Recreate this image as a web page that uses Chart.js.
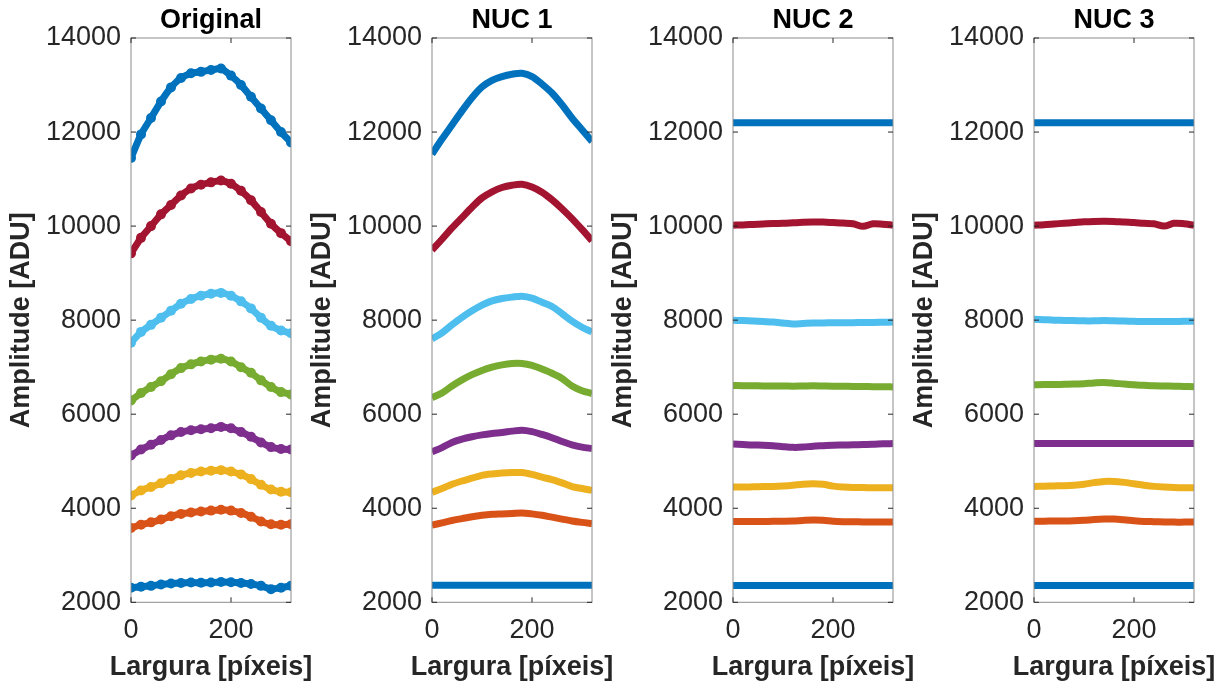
<!DOCTYPE html>
<html>
<head>
<meta charset="utf-8">
<script src="https://cdn.jsdelivr.net/npm/chart.js@4"></script>
<style>
  body { margin: 0; background: #fff; }
  .panel { position: absolute; top: 0; }
</style>
</head>
<body>
<div class="panel" style="left:1px"><canvas id="c0" width="330" height="686"></canvas></div>
<div class="panel" style="left:302px"><canvas id="c1" width="330" height="686"></canvas></div>
<div class="panel" style="left:603px"><canvas id="c2" width="330" height="686"></canvas></div>
<div class="panel" style="left:904px"><canvas id="c3" width="320" height="686"></canvas></div>
<script>
// column positions (pixels along the sensor row)
const xs = [0, 20, 40, 60, 80, 100, 120, 140, 160, 180, 200, 220, 240, 260, 280, 300, 320];
const xTicks = [0, 200];
const yTicks = [2000, 4000, 6000, 8000, 10000, 12000, 14000];
const titles = ["Original", "NUC 1", "NUC 2", "NUC 3"];
const xLabel = "Largura [píxeis]";
const yLabel = "Amplitude [ADU]";

// MATLAB default colour order, bottom curve first
const colors = ["#0072BD", "#D95319", "#EDB120", "#7E2F8E", "#77AC30", "#4DBEEE", "#A2142F", "#0072BD"];

// Original
const orig1 = [2310, 2330, 2350, 2380, 2400, 2410, 2420, 2415, 2420, 2430, 2425, 2410, 2390, 2350, 2280, 2310, 2350];
const orig2 = [3580, 3650, 3700, 3760, 3830, 3880, 3910, 3930, 3950, 3970, 3950, 3900, 3820, 3720, 3660, 3650, 3660];
const orig3 = [4270, 4380, 4450, 4530, 4620, 4700, 4750, 4780, 4800, 4810, 4780, 4720, 4620, 4500, 4400, 4350, 4340];
const orig4 = [5120, 5250, 5350, 5450, 5550, 5620, 5660, 5680, 5700, 5730, 5700, 5620, 5520, 5400, 5300, 5260, 5250];
const orig5 = [6290, 6450, 6580, 6700, 6850, 6980, 7060, 7120, 7160, 7180, 7120, 7000, 6880, 6720, 6580, 6470, 6420];
const orig6 = [7520, 7750, 7900, 8050, 8200, 8350, 8450, 8520, 8560, 8580, 8520, 8400, 8250, 8050, 7880, 7780, 7720];
const orig7 = [9420, 9750, 10000, 10250, 10450, 10650, 10800, 10880, 10930, 10970, 10900, 10750, 10550, 10300, 10050, 9850, 9680];
const orig8 = [11450, 11950, 12300, 12650, 12950, 13150, 13250, 13280, 13320, 13350, 13200, 13000, 12750, 12500, 12250, 12000, 11780];

// NUC 1
const nuc1a = [2360, 2360, 2360, 2360, 2360, 2360, 2360, 2360, 2360, 2360, 2360, 2360, 2360, 2360, 2360, 2360, 2360];
const nuc1b = [3640, 3690, 3740, 3780, 3820, 3850, 3870, 3880, 3890, 3900, 3880, 3850, 3810, 3770, 3730, 3700, 3675];
const nuc1c = [4340, 4420, 4510, 4580, 4640, 4700, 4730, 4750, 4760, 4760, 4720, 4660, 4610, 4540, 4460, 4420, 4380];
const nuc1d = [5200, 5290, 5400, 5470, 5520, 5560, 5590, 5610, 5640, 5660, 5630, 5570, 5500, 5420, 5350, 5300, 5270];
const nuc1e = [6350, 6450, 6600, 6730, 6840, 6930, 7000, 7050, 7080, 7080, 7040, 6960, 6870, 6760, 6600, 6500, 6440];
const nuc1f = [7600, 7730, 7900, 8060, 8200, 8320, 8410, 8460, 8490, 8510, 8470, 8380, 8290, 8140, 7980, 7850, 7750];
const nuc1g = [9490, 9720, 9960, 10180, 10400, 10600, 10730, 10820, 10870, 10890, 10830, 10720, 10560, 10370, 10160, 9930, 9690];
const nuc1h = [11530, 11850, 12150, 12450, 12730, 12960, 13100, 13180, 13230, 13250, 13180, 13020, 12830, 12580, 12300, 12050, 11800];

// NUC 2
const nuc2a = [2355, 2355, 2355, 2355, 2355, 2355, 2355, 2355, 2355, 2355, 2355, 2355, 2355, 2355, 2355, 2355, 2355];
const nuc2b = [3720, 3720, 3720, 3720, 3722, 3725, 3730, 3742, 3750, 3745, 3725, 3715, 3712, 3710, 3710, 3710, 3710];
const nuc2c = [4450, 4450, 4455, 4460, 4465, 4475, 4490, 4510, 4520, 4510, 4470, 4450, 4440, 4440, 4435, 4435, 4435];
const nuc2d = [5365, 5355, 5345, 5340, 5330, 5310, 5295, 5300, 5320, 5330, 5340, 5345, 5350, 5355, 5360, 5370, 5375];
const nuc2e = [6610, 6605, 6605, 6600, 6600, 6600, 6595, 6600, 6605, 6600, 6595, 6595, 6590, 6590, 6585, 6585, 6580];
const nuc2f = [8000, 7990, 7980, 7970, 7960, 7940, 7920, 7930, 7940, 7940, 7945, 7945, 7945, 7950, 7950, 7955, 7960];
const nuc2g = [10020, 10025, 10035, 10045, 10055, 10060, 10070, 10080, 10085, 10085, 10075, 10065, 10050, 9995, 10050, 10040, 10020];
const nuc2h = [12200, 12200, 12200, 12200, 12200, 12200, 12200, 12200, 12200, 12200, 12200, 12200, 12200, 12200, 12200, 12200, 12200];

// NUC 3
const nuc3a = [2355, 2355, 2355, 2355, 2355, 2355, 2355, 2355, 2355, 2355, 2355, 2355, 2355, 2355, 2355, 2355, 2355];
const nuc3b = [3725, 3725, 3728, 3730, 3735, 3745, 3760, 3770, 3770, 3755, 3735, 3720, 3715, 3710, 3705, 3705, 3705];
const nuc3c = [4465, 4470, 4475, 4480, 4490, 4510, 4545, 4570, 4570, 4550, 4520, 4490, 4465, 4450, 4440, 4435, 4435];
const nuc3d = [5375, 5375, 5375, 5375, 5375, 5375, 5375, 5375, 5375, 5375, 5375, 5375, 5375, 5375, 5375, 5375, 5375];
const nuc3e = [6625, 6630, 6630, 6635, 6640, 6650, 6665, 6675, 6660, 6640, 6625, 6615, 6605, 6600, 6595, 6590, 6585];
const nuc3f = [8020, 8010, 8000, 7995, 7990, 7985, 7985, 7990, 7985, 7980, 7975, 7970, 7970, 7970, 7970, 7975, 7975];
const nuc3g = [10020, 10030, 10045, 10060, 10075, 10090, 10100, 10105, 10100, 10085, 10075, 10060, 10050, 10000, 10060, 10050, 10020];
const nuc3h = [12200, 12200, 12200, 12200, 12200, 12200, 12200, 12200, 12200, 12200, 12200, 12200, 12200, 12200, 12200, 12200, 12200];

const panels = [
    [orig1, orig2, orig3, orig4, orig5, orig6, orig7, orig8],
    [nuc1a, nuc1b, nuc1c, nuc1d, nuc1e, nuc1f, nuc1g, nuc1h],
    [nuc2a, nuc2b, nuc2c, nuc2d, nuc2e, nuc2f, nuc2g, nuc2h],
    [nuc3a, nuc3b, nuc3c, nuc3d, nuc3e, nuc3f, nuc3g, nuc3h]
];

const FONT = "'Liberation Sans', Arial, Helvetica, sans-serif";

// box around the axes, inward ticks, title and x label (Chart.js would squeeze the label to the plot width)
const boxPlugin = {
    id: "box",
    afterDraw(chart, args, opts) {
        const { ctx, chartArea: a, scales } = chart;
        ctx.save();
        ctx.strokeStyle = "#8c8c8c";
        ctx.lineWidth = 1;
        ctx.strokeRect(a.left, a.top, a.right - a.left, a.bottom - a.top);
        ctx.strokeStyle = "#262626";
        ctx.beginPath();
        yTicks.forEach(v => {
            const py = scales.y.getPixelForValue(v);
            ctx.moveTo(a.left, py); ctx.lineTo(a.left + 5, py);
            ctx.moveTo(a.right, py); ctx.lineTo(a.right - 5, py);
        });
        xTicks.forEach(v => {
            const px = scales.x.getPixelForValue(v);
            ctx.moveTo(px, a.bottom); ctx.lineTo(px, a.bottom - 5);
            ctx.moveTo(px, a.top); ctx.lineTo(px, a.top + 5);
        });
        ctx.stroke();
        const cx = (a.left + a.right) / 2;
        ctx.font = "bold 27px " + FONT;
        ctx.textAlign = "center";
        ctx.textBaseline = "alphabetic";
        ctx.fillStyle = "#000";
        ctx.fillText(opts.text, cx, 28);
        ctx.fillStyle = "#262626";
        ctx.fillText(xLabel, cx, 675);
        ctx.restore();
    }
};

panels.forEach((series, i) => {
    const isOrig = i === 0;
    const cv = document.getElementById("c" + i);
    new Chart(cv.getContext("2d"), {
        type: "line",
        data: {
            datasets: series.map((vals, k) => ({
                data: xs.map((x, j) => ({ x: x, y: vals[j] })),
                borderColor: colors[k],
                backgroundColor: colors[k],
                borderWidth: 7,
                pointRadius: isOrig ? 5 : 0,
                pointBorderWidth: 0,
                tension: isOrig ? 0.15 : 0.3,
                fill: false
            }))
        },
        plugins: [boxPlugin],
        options: {
            responsive: false,
            animation: false,
            devicePixelRatio: 1,
            layout: { padding: { top: 38, right: cv.width - 290, bottom: 0, left: 0 } },
            scales: {
                x: {
                    type: "linear",
                    min: 0,
                    max: 320,
                    afterBuildTicks: s => { s.ticks = xTicks.map(v => ({ value: v })); },
                    afterFit: s => { s.height = 83.7; },
                    grid: { display: false, drawTicks: false },
                    border: { display: false },
                    ticks: {
                        color: "#262626",
                        font: { family: FONT, size: 27 },
                        padding: 12,
                        maxRotation: 0,
                        callback: v => String(v)
                    }
                },
                y: {
                    min: 2000,
                    max: 14000,
                    afterBuildTicks: s => { s.ticks = yTicks.map(v => ({ value: v })); },
                    afterFit: s => { s.width = 130; },
                    grid: { display: false, drawTicks: false },
                    border: { display: false },
                    ticks: {
                        color: "#262626",
                        font: { family: FONT, size: 27 },
                        padding: 10,
                        callback: v => String(v)
                    },
                    title: {
                        display: true,
                        text: yLabel,
                        color: "#262626",
                        font: { family: FONT, size: 27, weight: "bold" },
                        padding: { top: 4, bottom: 0 }
                    }
                }
            },
            plugins: {
                legend: { display: false },
                tooltip: { enabled: false },
                box: { text: titles[i] }
            }
        }
    });
});
</script>
</body>
</html>
